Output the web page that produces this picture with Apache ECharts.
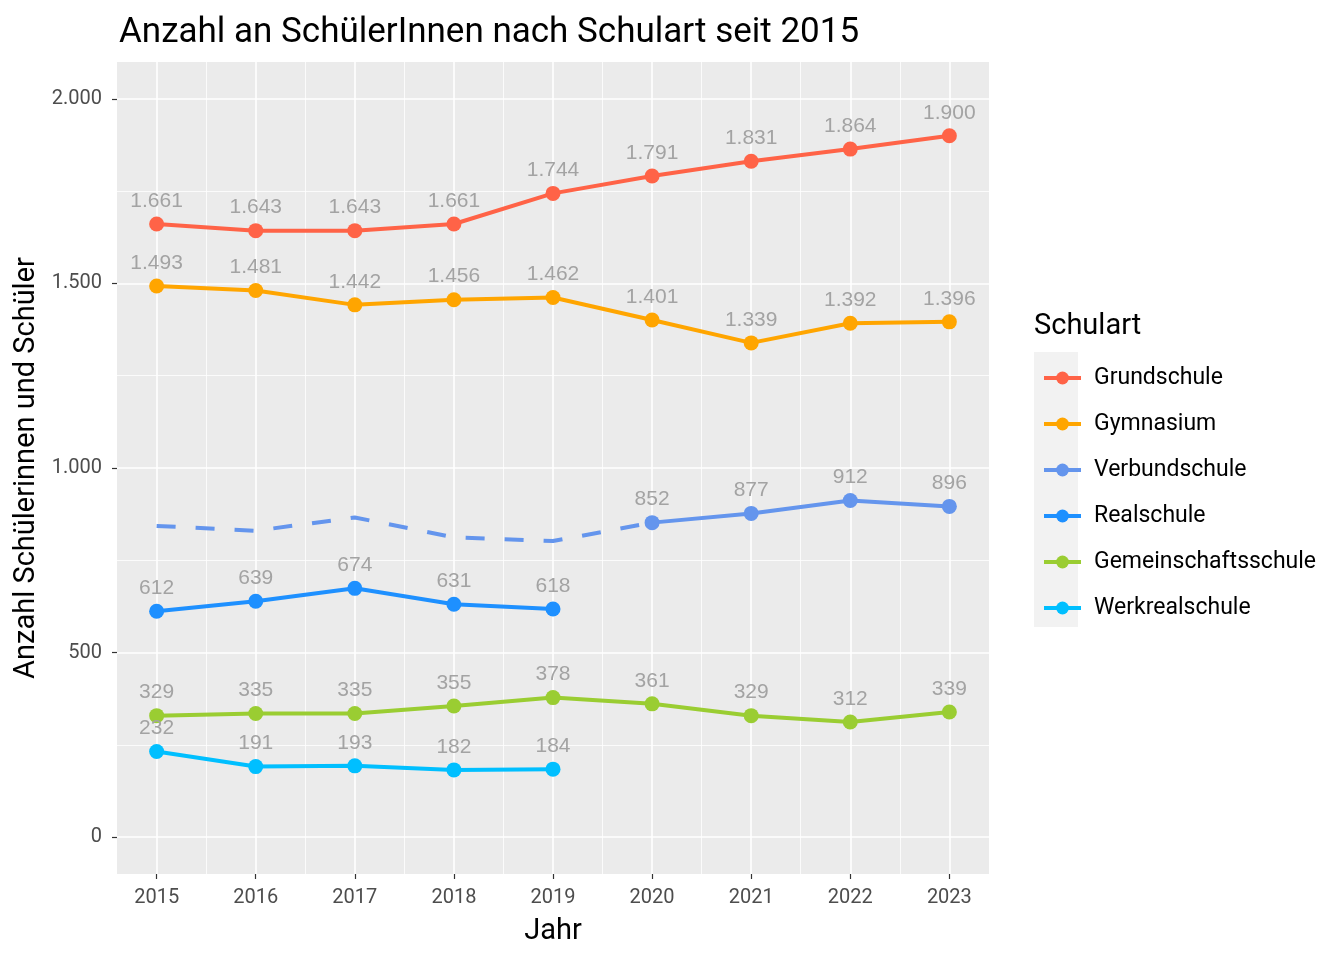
<!DOCTYPE html>
<html><head><meta charset="utf-8">
<script src="https://cdn.jsdelivr.net/npm/echarts@6/dist/echarts.min.js"></script>
<style>html,body{margin:0;padding:0;background:#fff}#c{width:1344px;height:960px}</style>
</head><body><div id="c"></div>
<script>
const years = [2015, 2016, 2017, 2018, 2019, 2020, 2021, 2022, 2023];
const grundschule = [1661, 1643, 1643, 1661, 1744, 1791, 1831, 1864, 1900];
const gymnasium = [1493, 1481, 1442, 1456, 1462, 1401, 1339, 1392, 1396];
const verbundschule = [null, null, null, null, null, 852, 877, 912, 896];
const verbundschuleEstimate = [843, 830, 866, 812, 802, 852, null, null, null];
const realschule = [612, 639, 674, 631, 618, null, null, null, null];
const gemeinschaftsschule = [329, 335, 335, 355, 378, 361, 329, 312, 339];
const werkrealschule = [232, 191, 193, 182, 184, null, null, null, null];
const yTicks = [0, 500, 1000, 1500, 2000];
const yMinor = [250, 750, 1250, 1750];
const xMinor = [2015.5, 2016.5, 2017.5, 2018.5, 2019.5, 2020.5, 2021.5, 2022.5];

const fmt = v => String(v).replace(/\B(?=(\d{3})+(?!\d))/g, '.');
const toPairs = vals => years.map((y, i) => [y, vals[i] == null ? '-' : vals[i]]);

const FONT = 'Roboto';
const labelStyle = {
  show: true, position: 'top', distance: 5,
  color: '#A3A3A3', fontSize: 21, fontFamily: 'Liberation Sans',
  formatter: p => fmt(p.value[1])
};
function mk(name, vals, color) {
  return {
    name, type: 'line', data: toPairs(vals), color,
    symbol: 'circle', symbolSize: 15,
    lineStyle: { width: 4, color }, itemStyle: { color },
    label: labelStyle, z: 3
  };
}
const series = [
  mk('Grundschule', grundschule, '#FF6347'),
  mk('Gymnasium', gymnasium, '#FFA500'),
  mk('Verbundschule', verbundschule, '#6495ED'),
  mk('Realschule', realschule, '#1E90FF'),
  mk('Gemeinschaftsschule', gemeinschaftsschule, '#9ACD32'),
  mk('Werkrealschule', werkrealschule, '#00BFFF'),
  {
    name: 'Verbundschule', type: 'line', data: toPairs(verbundschuleEstimate),
    showSymbol: false, symbol: 'none', color: '#6495ED',
    lineStyle: { width: 4, color: '#6495ED', type: [19, 20] }, z: 2, silent: true
  }
];

const chart = echarts.init(document.getElementById('c'));
chart.setOption({
  animation: false,
  backgroundColor: '#ffffff',
  title: {
    text: 'Anzahl an SchülerInnen nach Schulart seit 2015',
    left: 114, top: 11,
    textStyle: { fontFamily: FONT, fontSize: 35, fontWeight: 'normal', color: '#000' }
  },
  grid: { left: 117, right: 355, top: 62, bottom: 86, show: true, backgroundColor: '#EBEBEB', borderWidth: 0 },
  xAxis: [{
    type: 'value', min: 2014.6, max: 2023.4,
    name: 'Jahr', nameLocation: 'middle', nameGap: 43,
    nameTextStyle: { fontFamily: FONT, fontSize: 29, color: '#000' },
    axisLine: { show: false, onZero: false },
    axisTick: { show: true, length: 5, customValues: years, lineStyle: { color: '#333', width: 1.2 } },
    axisLabel: { customValues: years, margin: 14, fontFamily: FONT, fontSize: 20, color: '#4D4D4D', formatter: v => String(v) },
    splitLine: { show: true, lineStyle: { color: '#fff', width: 1.6 } },
    z: 1
  }, {
    type: 'value', min: 2014.6, max: 2023.4, gridIndex: 0, position: 'bottom',
    axisLine: { show: false, onZero: false },
    axisTick: { show: false, customValues: xMinor },
    axisLabel: { show: false, customValues: xMinor },
    splitLine: { show: true, lineStyle: { color: '#fff', width: 0.8 } }
  }],
  yAxis: [{
    type: 'value', min: -100, max: 2100,
    name: 'Anzahl Schülerinnen und Schüler', nameLocation: 'middle', nameGap: 74, nameRotate: 90,
    nameTextStyle: { fontFamily: FONT, fontSize: 29, color: '#000' },
    axisLine: { show: false, onZero: false },
    axisTick: { show: true, length: 5, customValues: yTicks, lineStyle: { color: '#333', width: 1.2 } },
    axisLabel: { customValues: yTicks, margin: 15, fontFamily: FONT, fontSize: 20, color: '#4D4D4D', formatter: v => fmt(v) },
    splitLine: { show: true, lineStyle: { color: '#fff', width: 1.6 } }
  }, {
    type: 'value', min: -100, max: 2100, gridIndex: 0, position: 'left',
    axisLine: { show: false, onZero: false },
    axisTick: { show: false, customValues: yMinor },
    axisLabel: { show: false, customValues: yMinor },
    splitLine: { show: true, lineStyle: { color: '#fff', width: 0.8 } }
  }],
  legend: {
    orient: 'vertical', left: 1037, top: 360,
    data: ['Grundschule', 'Gymnasium', 'Verbundschule', 'Realschule', 'Gemeinschaftsschule', 'Werkrealschule'],
    itemWidth: 37, itemHeight: 16, itemGap: 20,
    lineStyle: { width: 4 },
    textStyle: { fontFamily: FONT, fontSize: 23, lineHeight: 26, color: '#000', padding: [0, 0, 0, 8] },
    selectedMode: false
  },
  graphic: [
    { type: 'rect', left: 1034, top: 352, shape: { width: 44, height: 275 }, style: { fill: '#F2F2F2' }, z: 0 },
    { type: 'text', left: 1034, top: 312, style: { text: 'Schulart', fontFamily: FONT, fontSize: 29, fill: '#000' } }
  ],
  series
});
</script></body></html>
